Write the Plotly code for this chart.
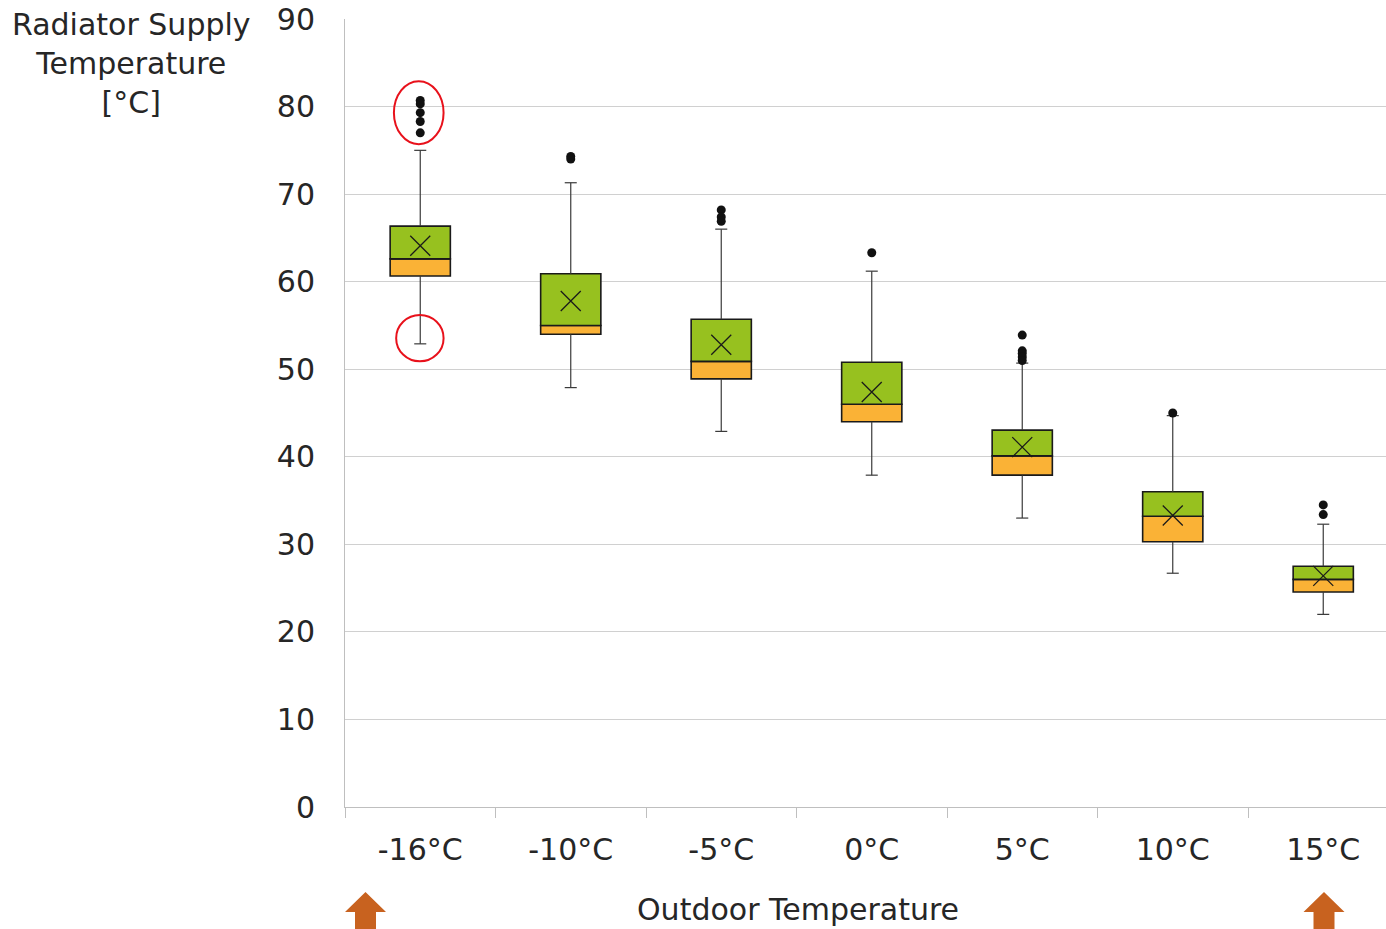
import plotly.graph_objects as go

categories = ["-16°C", "-10°C", "-5°C", "0°C", "5°C", "10°C", "15°C"]
lower_whisker = [52.9, 47.9, 42.9, 37.9, 33.0, 26.7, 22.0]
q1 = [60.65, 54.0, 48.9, 44.0, 37.9, 30.3, 24.55]
median = [62.6, 55.0, 50.9, 46.0, 40.1, 33.2, 26.0]
q3 = [66.35, 60.9, 55.7, 50.8, 43.05, 36.0, 27.5]
upper_whisker = [75.0, 71.3, 66.0, 61.2, 50.7, 44.7, 32.3]
mean = [64.1, 57.8, 52.8, 47.4, 41.1, 33.3, 26.4]
outliers = [
    [80.7, 80.3, 79.3, 78.3, 77.0],
    [74.3, 74.0],
    [68.2, 67.4, 66.9],
    [63.3],
    [53.9, 52.1, 51.8, 51.4, 51.0],
    [45.0],
    [34.5, 33.4],
]
y_ticks = [0, 10, 20, 30, 40, 50, 60, 70, 80, 90]

GREEN = "#97C11F"
ORANGE = "#FAB236"
ARROW = "#C8621F"
FONT = "DejaVu Sans"
TXT = "#262626"
FS = 30

W, H = 1386, 929
L, T = 345, 19
PW, PH = W - L, 807 - 19
B = H - T - PH

def px(xpage):
    return (xpage - L) / PW

def py(ypage):
    return (807 - ypage) / PH

xs = list(range(len(categories)))
fig = go.Figure()

fig.add_trace(go.Bar(x=xs, y=[m - a for m, a in zip(median, q1)], base=q1, width=0.4,
                     marker=dict(color=ORANGE, line=dict(color="#1a1a1a", width=1.6)),
                     hoverinfo="skip"))
fig.add_trace(go.Bar(x=xs, y=[b - m for b, m in zip(q3, median)], base=median, width=0.4,
                     marker=dict(color=GREEN, line=dict(color="#1a1a1a", width=1.6)),
                     hoverinfo="skip"))

wx, wy = [], []
cap = 0.04
for i in xs:
    wx += [i, i, None, i, i, None, i - cap, i + cap, None, i - cap, i + cap, None]
    wy += [q3[i], upper_whisker[i], None, q1[i], lower_whisker[i], None,
           upper_whisker[i], upper_whisker[i], None, lower_whisker[i], lower_whisker[i], None]
fig.add_trace(go.Scatter(x=wx, y=wy, mode="lines", line=dict(color="#3a3a3a", width=1.2),
                         hoverinfo="skip"))

fig.add_trace(go.Scatter(x=xs, y=mean, mode="markers",
                         marker=dict(symbol="x-thin", size=20, line=dict(color="#1a1a1a", width=1.3)),
                         hoverinfo="skip"))

ox, oy = [], []
for i, vals in enumerate(outliers):
    for v in vals:
        ox.append(i)
        oy.append(v)
fig.add_trace(go.Scatter(x=ox, y=oy, mode="markers",
                         marker=dict(symbol="circle", size=9, color="#111111"),
                         hoverinfo="skip"))

shapes = []
top_lo, top_hi = min(outliers[0]), max(outliers[0])
shapes.append(dict(type="circle", xref="x", yref="y", x0=-0.175, x1=0.155,
                   y0=top_lo - 1.3, y1=top_hi + 2.2, line=dict(color="#E8111B", width=2)))
shapes.append(dict(type="circle", xref="x", yref="y", x0=-0.16, x1=0.155,
                   y0=lower_whisker[0] - 2.0, y1=lower_whisker[0] + 3.3, line=dict(color="#E8111B", width=2)))

def arrow(cx_page):
    cx = px(cx_page)
    hw = 20.5 / PW
    sw = 10.5 / PW
    ytip, yneck, ybot = py(892), py(912), py(929)
    path = (f"M {cx - hw},{yneck} L {cx},{ytip} L {cx + hw},{yneck} L {cx + sw},{yneck} "
            f"L {cx + sw},{ybot} L {cx - sw},{ybot} L {cx - sw},{yneck} Z")
    return dict(type="path", xref="paper", yref="paper", path=path,
                fillcolor=ARROW, line=dict(width=0))

shapes.append(arrow(365.5))
shapes.append(arrow(1324))

fig.update_layout(
    width=W, height=H,
    margin=dict(l=L, r=0, t=T, b=B, pad=0),
    paper_bgcolor="white", plot_bgcolor="white",
    showlegend=False, barmode="overlay",
    font=dict(family=FONT, size=FS, color=TXT),
    shapes=shapes,
    xaxis=dict(range=[-0.5, -0.5 + PW / 150.5], tickvals=xs, ticktext=categories, ticks="",
               showgrid=False, zeroline=False, showline=True, linecolor="#BFBFBF", linewidth=1,
               ticklabelstandoff=16, tickfont=dict(size=FS, color=TXT),
               minor=dict(tick0=-0.5, dtick=1, ticks="outside", ticklen=10,
                          tickcolor="#BFBFBF", tickwidth=1, showgrid=False)),
    yaxis=dict(range=[0, 90.001], tickvals=y_ticks, showgrid=True, gridcolor="#D0D0D0", gridwidth=1,
               zeroline=False, showline=True, linecolor="#BFBFBF", linewidth=1,
               ticks="", ticklabelstandoff=23, tickfont=dict(size=FS, color=TXT)),
    annotations=[
        dict(text="Radiator Supply<br>Temperature<br>[°C]", xref="paper", yref="paper",
             x=px(131), y=py(5), xanchor="center", yanchor="top",
             showarrow=False, align="center", font=dict(size=FS, color=TXT)),
        dict(text="Outdoor Temperature", xref="paper", yref="paper",
             x=px(798), y=py(910), xanchor="center", yanchor="middle",
             showarrow=False, font=dict(size=FS, color=TXT)),
    ],
)

fig.write_html("out.html", config={"displayModeBar": False},
               post_script="document.body.style.margin='0';document.body.style.overflow='hidden';")
